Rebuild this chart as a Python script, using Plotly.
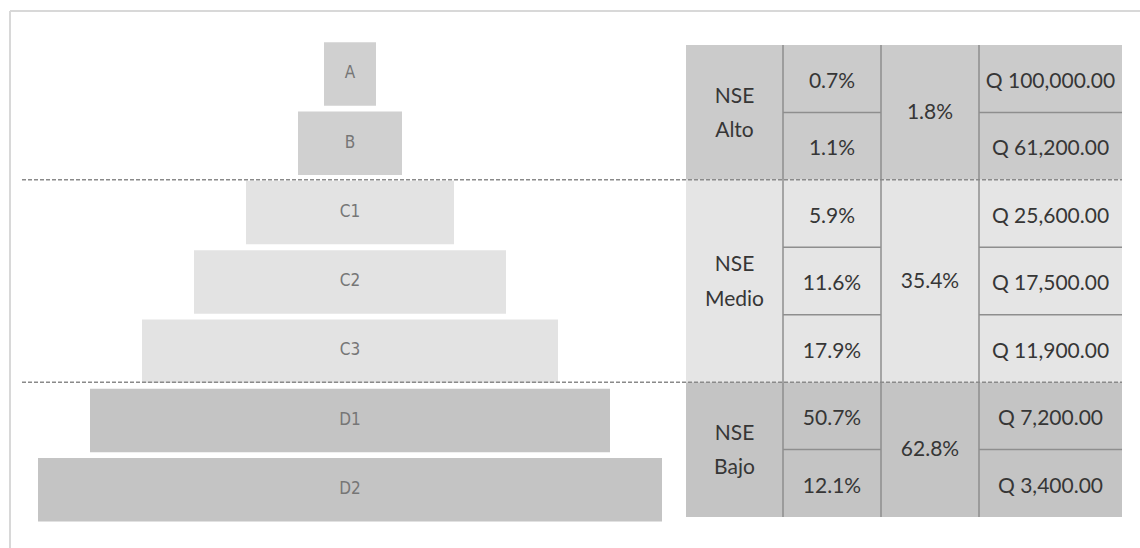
import plotly.graph_objects as go

# ---------------- data ----------------
levels = ["A", "B", "C1", "C2", "C3", "D1", "D2"]
level_widths = [1, 2, 4, 6, 8, 10, 12]          # relative pyramid bar widths
level_shares = [0.7, 1.1, 5.9, 11.6, 17.9, 50.7, 12.1]   # % of population
level_incomes = [100000, 61200, 25600, 17500, 11900, 7200, 3400]  # Quetzales

group_names_top = ["NSE", "NSE", "NSE"]
group_names_bottom = ["Alto", "Medio", "Bajo"]
group_sizes = [2, 3, 2]
group_shares = [1.8, 35.4, 62.8]

# ---------------- styles / layout constants ----------------
W, H = 1140, 548
group_colors = ["#cbcbcb", "#e5e5e5", "#c4c4c4"]
pyr_colors_by_group = ["#d0d0d0", "#e3e3e3", "#c4c4c4"]
line_col = "#8e8e8e"
text_col = "#363636"
table_font = "Lato, 'Open Sans', sans-serif"
pyr_font = "'Liberation Sans Narrow', 'DejaVu Sans Condensed', Roboto, sans-serif"

pyr_center_px = 350
pyr_unit_px = 52
pyr_first_center_px = 74
pyr_step_px = 69.3
pyr_bar_px = 63.5

tbl_left_px, tbl_right_px = 686, 1122
tbl_top_px, tbl_bottom_px = 45, 517
col_widths = [97, 98, 98, 143]

# derived
group_starts = []
s = 0
for g in group_sizes:
    group_starts.append(s)
    s += g
n_rows = s
row_group = []
for gi, g in enumerate(group_sizes):
    row_group += [gi] * g

col_edges = [0]
for cw in col_widths:
    col_edges.append(col_edges[-1] + cw)
col_centers = [(col_edges[i] + col_edges[i + 1]) / 2 for i in range(len(col_widths))]
tbl_total = col_edges[-1]
row_px = (tbl_bottom_px - tbl_top_px) / n_rows

fig = go.Figure()

# ---------------- pyramid ----------------
fig.add_trace(go.Bar(
    y=levels, x=level_widths, base=[-w / 2 for w in level_widths],
    orientation="h",
    marker=dict(color=[pyr_colors_by_group[g] for g in row_group], line=dict(width=0)),
    hoverinfo="skip", showlegend=False, xaxis="x", yaxis="y",
))
fig.add_trace(go.Scatter(
    x=[0] * len(levels), y=levels, mode="text", text=levels,
    textfont=dict(family=pyr_font, size=17, color="#767676"),
    hoverinfo="skip", showlegend=False, xaxis="x", yaxis="y",
))

# ---------------- table backgrounds ----------------
fig.add_trace(go.Bar(
    x=[tbl_total / 2] * len(group_sizes), y=group_sizes, base=group_starts,
    width=[tbl_total] * len(group_sizes),
    marker=dict(color=group_colors, line=dict(width=0)),
    hoverinfo="skip", showlegend=False, xaxis="x2", yaxis="y2",
))

# ---------------- table lines ----------------
lx, ly = [], []
for e in col_edges[1:-1]:
    lx += [e, e, None]
    ly += [0, n_rows, None]
for gi, g in enumerate(group_sizes):
    for k in range(1, g):
        yy = group_starts[gi] + k
        for c in (1, 3):
            lx += [col_edges[c], col_edges[c + 1], None]
            ly += [yy, yy, None]
fig.add_trace(go.Scatter(
    x=lx, y=ly, mode="lines", line=dict(color=line_col, width=1.5),
    hoverinfo="skip", showlegend=False, xaxis="x2", yaxis="y2",
))

# ---------------- table texts ----------------
tx, ty, tt = [], [], []
for gi, g in enumerate(group_sizes):
    mid = group_starts[gi] + g / 2
    tx += [col_centers[0], col_centers[0]]
    ty += [mid - 0.22, mid + 0.29]
    tt += [group_names_top[gi], group_names_bottom[gi]]
    tx.append(col_centers[2]); ty.append(mid + 0.02); tt.append(f"{group_shares[gi]:.1f}%")
for i in range(n_rows):
    tx.append(col_centers[1]); ty.append(i + 0.56); tt.append(f"{level_shares[i]:.1f}%")
    tx.append(col_centers[3]); ty.append(i + 0.56); tt.append(f"Q {level_incomes[i]:,.2f}")
fig.add_trace(go.Scatter(
    x=tx, y=ty, mode="text", text=tt,
    textfont=dict(family=table_font, size=21, color=text_col),
    hoverinfo="skip", showlegend=False, xaxis="x2", yaxis="y2",
))

# ---------------- dashed group separators ----------------
shapes = []
for gi in range(1, len(group_sizes)):
    yb = group_starts[gi]
    shapes.append(dict(type="line", xref="paper", yref="y2",
                       x0=22 / W, x1=tbl_right_px / W, y0=yb, y1=yb,
                       line=dict(color="#8a8a8a", width=1.5, dash="4px,2px")))
# outer frame (top and left)
shapes.append(dict(type="line", xref="paper", yref="paper", x0=10 / W, x1=1,
                   y0=1 - 11 / H, y1=1 - 11 / H, line=dict(color="#d8d8d8", width=2)))
shapes.append(dict(type="line", xref="paper", yref="paper", x0=10 / W, x1=10 / W,
                   y0=0, y1=1 - 11 / H, line=dict(color="#d8d8d8", width=2)))

fig.update_layout(
    width=W, height=H, margin=dict(l=0, r=0, t=0, b=0),
    paper_bgcolor="white", plot_bgcolor="rgba(0,0,0,0)",
    bargap=1 - pyr_bar_px / pyr_step_px, barmode="overlay",
    shapes=shapes,
    xaxis=dict(domain=[0, 1], range=[-pyr_center_px / pyr_unit_px, (W - pyr_center_px) / pyr_unit_px],
               visible=False, fixedrange=True),
    yaxis=dict(domain=[0, 1], type="category", categoryorder="array", categoryarray=levels,
               range=[(H - pyr_first_center_px) / pyr_step_px, -pyr_first_center_px / pyr_step_px],
               visible=False, fixedrange=True),
    xaxis2=dict(domain=[tbl_left_px / W, tbl_right_px / W], range=[0, tbl_total], anchor="y2",
                visible=False, fixedrange=True),
    yaxis2=dict(domain=[0, 1], range=[(H - tbl_top_px) / row_px, -tbl_top_px / row_px], anchor="x2",
                visible=False, fixedrange=True),
)

fig.write_html("out.html", config={"displayModeBar": False})
